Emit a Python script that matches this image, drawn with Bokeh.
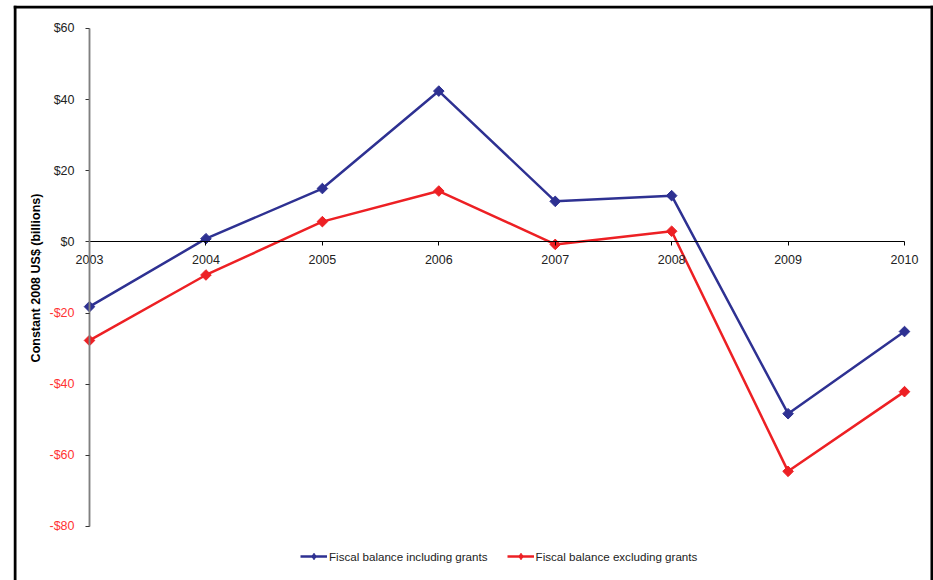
import math
from bokeh.plotting import figure
from bokeh.models import (LinearAxis, FixedTicker, CustomJSTickFormatter, Range1d,
                          Legend, LegendItem, Label, Span)
from bokeh.embed import file_html
from bokeh.resources import INLINE

years = [2003, 2004, 2005, 2006, 2007, 2008, 2009, 2010]
incl_grants = [-18.2, 0.9, 15.0, 42.4, 11.4, 13.0, -48.3, -25.2]
excl_grants = [-27.7, -9.3, 5.7, 14.3, -0.7, 3.0, -64.5, -42.1]
pos_ticks = [0, 20, 40, 60]
neg_ticks = [-80, -60, -40, -20]
series_names = ["Fiscal balance including grants", "Fiscal balance excluding grants"]
y_title = "Constant 2008 US$ (billions)"

BLUE = "#2E3192"
RED = "#ED2024"
FONT = "Liberation Sans"

X0, X1 = 2002.347, 2010.249
Y0, Y1 = -95.19, 66.46

p = figure(width=933, height=580, output_backend="svg", toolbar_location=None,
           x_axis_type=None, y_axis_type=None,
           x_range=Range1d(X0, X1), y_range=Range1d(Y0, Y1),
           min_border_left=13, min_border_right=0, min_border_top=5, min_border_bottom=0)
p.outline_line_color = None
p.background_fill_color = "white"
p.border_fill_color = "white"

# chart border (left, right, top; bottom lies beyond the window)
p.add_layout(Span(location=2002.360, dimension="height", line_color="black", line_width=3))
p.add_layout(Span(location=2010.236, dimension="height", line_color="black", line_width=3))
p.add_layout(Span(location=66.04, dimension="width", line_color="black", line_width=3))

fmt = CustomJSTickFormatter(code="return (tick < 0 ? '-$' : '$') + Math.abs(tick);")

# x axis on the zero line
xa = LinearAxis(fixed_location=0, ticker=FixedTicker(ticks=years), bounds=(2003, 2010))
xa.axis_line_color = "black"
xa.axis_line_width = 1
xa.major_tick_in = 0
xa.major_tick_out = 4
xa.major_tick_line_color = "black"
xa.minor_tick_line_color = None
xa.major_label_standoff = 9
xa.major_label_text_font = FONT
xa.major_label_text_font_size = "12.5px"
xa.major_label_text_color = "#222222"
p.add_layout(xa, "below")

# y axes at 2003: positive labels black, negative labels red
for ticks, col in ((pos_ticks, "#222222"), (neg_ticks, "#FF3333")):
    ya = LinearAxis(fixed_location=2003, ticker=FixedTicker(ticks=ticks), bounds=(-80, 60),
                    formatter=fmt)
    ya.axis_line_color = "#808080"
    ya.axis_line_width = 1.5
    ya.major_tick_in = 0
    ya.major_tick_out = 4
    ya.major_tick_line_color = "#333333"
    ya.minor_tick_line_color = None
    ya.major_label_standoff = 11
    ya.major_label_text_font = FONT
    ya.major_label_text_font_size = "12.5px"
    ya.major_label_text_color = col
    p.add_layout(ya, "left")

l1 = p.line(years, incl_grants, line_color=BLUE, line_width=2.5)
s1 = p.scatter(years, incl_grants, marker="square", angle=math.pi / 4, size=7.5,
               fill_color=BLUE, line_color=BLUE)
l2 = p.line(years, excl_grants, line_color=RED, line_width=2.5)
s2 = p.scatter(years, excl_grants, marker="square", angle=math.pi / 4, size=7.5,
               fill_color=RED, line_color=RED)
# diamond glyphs used only for the legend swatches
d1 = p.scatter(years, incl_grants, marker="diamond", fill_color=BLUE, line_color=BLUE,
               visible=False)
d2 = p.scatter(years, excl_grants, marker="diamond", fill_color=RED, line_color=RED,
               visible=False)

legend = Legend(items=[LegendItem(label=series_names[0], renderers=[l1, d1]),
                       LegendItem(label=series_names[1], renderers=[l2, d2])],
                orientation="horizontal", location=(287, 16),
                background_fill_alpha=0, border_line_color=None,
                inactive_fill_alpha=0,
                padding=0, margin=0, spacing=19, label_standoff=2,
                glyph_width=27, glyph_height=16,
                label_text_font=FONT, label_text_font_size="11.6px",
                label_text_color="#222222")
p.add_layout(legend, "center")

title = Label(x=2002.54, y=-10.15, text=y_title, angle=math.pi / 2, angle_units="rad",
              text_align="center", text_baseline="middle", text_font=FONT,
              text_font_size="12.5px", text_font_style="bold", text_color="black")
p.add_layout(title)

open("out.html", "w").write(file_html(p, INLINE))
